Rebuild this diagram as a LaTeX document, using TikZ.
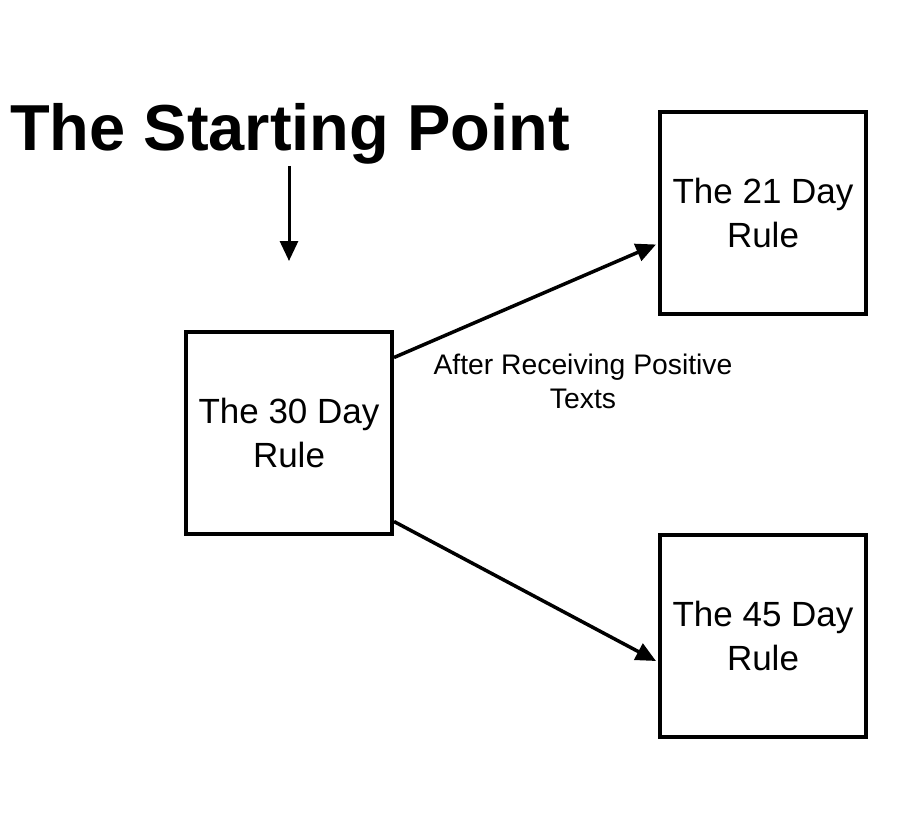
\documentclass[tikz,border=0pt]{standalone}
\usepackage{fontspec}
\setmainfont{Liberation Sans}
\usetikzlibrary{arrows.meta}
\begin{document}
\begin{tikzpicture}[x=1pt,y=-1pt,
  rulebox/.style={draw=black,line width=4pt,minimum width=206pt,minimum height=202pt,
    align=center,font=\fontsize{35}{44}\selectfont,inner sep=0pt},
  conn/.style={line width=3.5pt,-{Triangle[length=20pt,width=18pt]}}]
\useasboundingbox (0,0) rectangle (900,830);
\fill[white] (0,0) rectangle (900,830);
\node[font=\fontsize{65}{70}\selectfont\bfseries,inner sep=0pt,anchor=base] (title) at (290,150) {The Starting Point};
\coordinate (v) at (289,261);
\node[rulebox] (a) at (289,432.5) {The 30 Day\\Rule};
\node[rulebox] (b) at (763,212.5) {The 21 Day\\Rule};
\node[rulebox] (c) at (763,636) {The 45 Day\\Rule};
\node[font=\fontsize{28.3}{34}\selectfont,align=center,inner sep=0pt] (lab) at (583,381) {After Receiving Positive\\Texts};
\draw[conn,line width=3pt] ([xshift=-1pt,yshift=-2pt]title.south) -- (v);
\draw[conn] ([yshift=75pt]a.east) -- ([yshift=-32pt,xshift=-2pt]b.west);
\draw[conn] ([yshift=-89pt]a.east) -- ([yshift=-25pt,xshift=-2pt]c.west);
\end{tikzpicture}
\end{document}
